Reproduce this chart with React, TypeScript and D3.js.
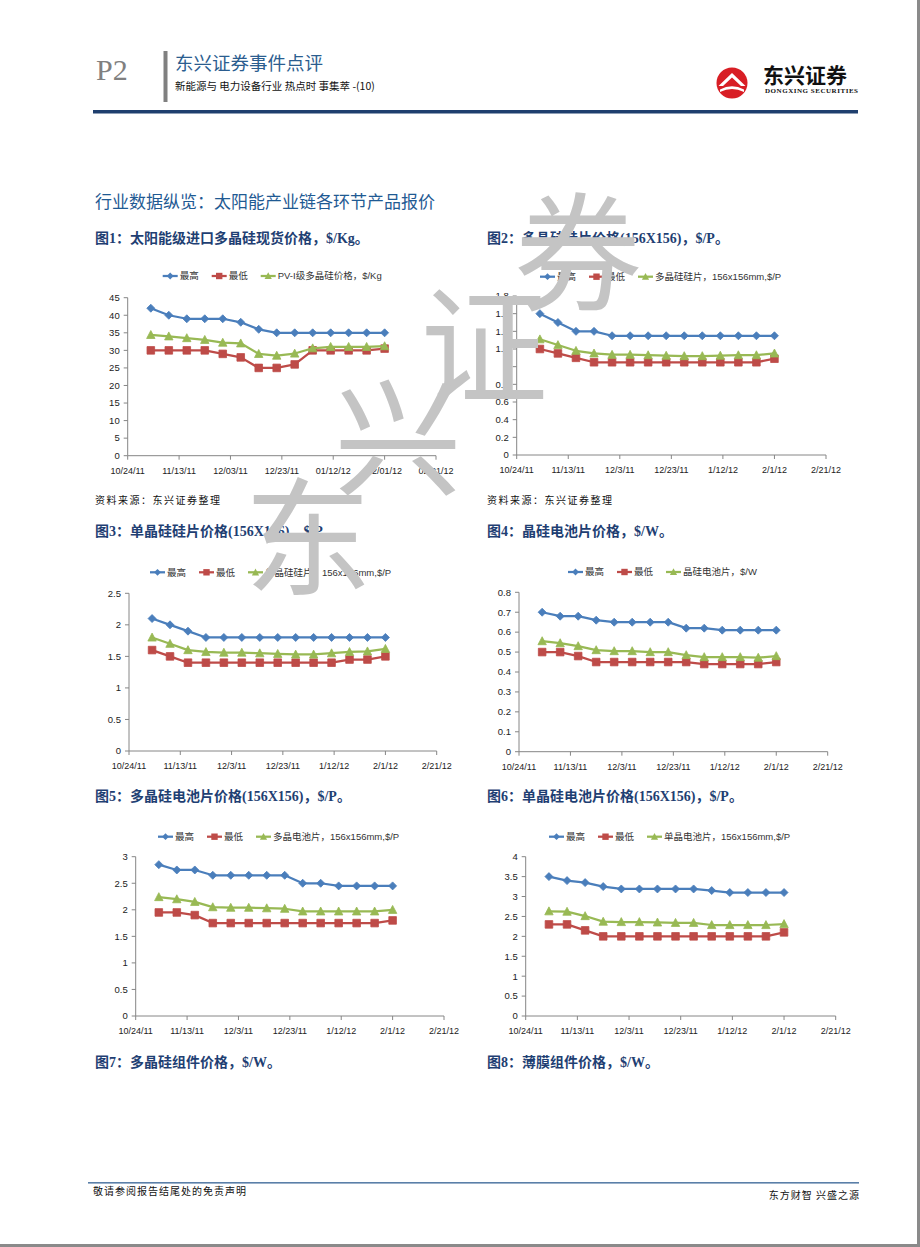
import React from "react";
import * as d3 from "d3";

// ---------- DATA ----------
const DATES = ["11/2/11", "11/9/11", "11/16/11", "11/23/11", "11/30/11", "12/7/11", "12/14/11", "12/21/11", "12/28/11", "1/4/12", "1/11/12", "1/18/12", "1/25/12", "2/1/12"];
const X_TICKS = ["10/24/11", "11/13/11", "12/3/11", "12/23/11", "1/12/12", "2/1/12", "2/21/12"];
const X_LABELS_PADDED = ["10/24/11", "11/13/11", "12/03/11", "12/23/11", "01/12/12", "02/01/12", "02/21/12"];
const SERIES_NAMES = ["最高", "最低"];

// Chart 1 多晶硅现货
const c1High = [42, 40, 39, 39, 39, 38, 36, 35, 35, 35, 35, 35, 35, 35];
const c1Low = [30, 30, 30, 30, 29, 28, 25, 25, 26, 30, 30, 30, 30, 30.5];
const c1Mid = [34.4, 34, 33.5, 33, 32.2, 32, 29, 28.5, 29.1, 30.6, 31, 31, 31, 31.2];
// Chart 2 多晶硅硅片
const c2High = [1.6, 1.5, 1.4, 1.4, 1.35, 1.35, 1.35, 1.35, 1.35, 1.35, 1.35, 1.35, 1.35, 1.35];
const c2Low = [1.2, 1.15, 1.1, 1.05, 1.05, 1.05, 1.05, 1.05, 1.05, 1.05, 1.05, 1.05, 1.05, 1.09];
const c2Mid = [1.31, 1.245, 1.18, 1.15, 1.135, 1.135, 1.13, 1.125, 1.12, 1.12, 1.125, 1.13, 1.13, 1.15];
// Chart 3 单晶硅硅片
const c3High = [2.1, 2.0, 1.9, 1.8, 1.8, 1.8, 1.8, 1.8, 1.8, 1.8, 1.8, 1.8, 1.8, 1.8];
const c3Low = [1.6, 1.5, 1.4, 1.4, 1.4, 1.4, 1.4, 1.4, 1.4, 1.4, 1.4, 1.45, 1.45, 1.5];
const c3Mid = [1.8, 1.7, 1.6, 1.57, 1.56, 1.56, 1.55, 1.54, 1.53, 1.53, 1.55, 1.57, 1.58, 1.62];
// Chart 4 晶硅电池片
const c4High = [0.7, 0.68, 0.68, 0.66, 0.65, 0.65, 0.65, 0.65, 0.62, 0.62, 0.61, 0.61, 0.61, 0.61];
const c4Low = [0.5, 0.5, 0.48, 0.45, 0.45, 0.45, 0.45, 0.45, 0.45, 0.44, 0.44, 0.44, 0.44, 0.45];
const c4Mid = [0.555, 0.545, 0.53, 0.51, 0.505, 0.505, 0.5, 0.5, 0.485, 0.475, 0.475, 0.475, 0.472, 0.48];
// Chart 5 多晶电池片
const c5High = [2.85, 2.75, 2.75, 2.65, 2.65, 2.65, 2.65, 2.65, 2.5, 2.5, 2.45, 2.45, 2.45, 2.45];
const c5Low = [1.95, 1.95, 1.9, 1.75, 1.75, 1.75, 1.75, 1.75, 1.75, 1.75, 1.75, 1.75, 1.75, 1.8];
const c5Mid = [2.24, 2.2, 2.15, 2.05, 2.04, 2.04, 2.03, 2.02, 1.97, 1.97, 1.97, 1.97, 1.97, 2.0];
// Chart 6 单晶电池片
const c6High = [3.5, 3.4, 3.35, 3.25, 3.19, 3.19, 3.19, 3.19, 3.19, 3.15, 3.1, 3.1, 3.1, 3.1];
const c6Low = [2.3, 2.3, 2.15, 2.0, 2.0, 2.0, 2.0, 2.0, 2.0, 2.0, 2.0, 2.0, 2.0, 2.1];
const c6Mid = [2.63, 2.62, 2.51, 2.37, 2.36, 2.36, 2.35, 2.34, 2.34, 2.285, 2.285, 2.285, 2.285, 2.31];

// ---------- STYLE ----------
const BLUE = "#4A7EBB";
const RED = "#BE4B48";
const GREEN = "#98B954";
const NAVY = "#1F3F6E";
const CJK = "'Noto Sans CJK SC', 'Liberation Sans', sans-serif";
const LAT_CJK = "'Liberation Sans', 'Noto Sans CJK SC', sans-serif";
const SERIF_CJK = "'Liberation Serif', 'Noto Sans CJK SC', serif";

const parse = d3.timeParse("%m/%d/%y");

let _canvas: HTMLCanvasElement | null = null;
function measure(text: string, font: string): number {
  if (typeof document === "undefined") return text.length * 8;
  if (!_canvas) _canvas = document.createElement("canvas");
  const ctx = _canvas.getContext("2d")!;
  ctx.font = font;
  return ctx.measureText(text).width;
}

function marker(kind: string, x: number, y: number, s: number) {
  if (kind === "diamond") return `M${x},${y - s}L${x + s},${y}L${x},${y + s}L${x - s},${y}Z`;
  if (kind === "square") return `M${x - s},${y - s}h${2 * s}v${2 * s}h${-2 * s}Z`;
  const h = s * 1.9;
  return `M${x},${y - h * 0.55}L${x + s},${y + h * 0.45}L${x - s},${y + h * 0.45}Z`;
}

type ChartCfg = {
  x0: number; x1: number; top: number; bottom: number;
  ymax: number; ystep: number;
  high: number[]; low: number[]; mid: number[];
  midName: string; legendX: number; legendY: number; xLabels: string[];
};

function Chart({ c }: { c: ChartCfg }) {
  const x = d3.scaleTime().domain([parse(X_TICKS[0])!, parse(X_TICKS[X_TICKS.length - 1])!]).range([c.x0, c.x1]);
  const y = d3.scaleLinear().domain([0, c.ymax]).range([c.bottom, c.top]);
  const yTicks = d3.range(0, c.ymax + c.ystep / 2, c.ystep);
  const dates = DATES.map((d) => parse(d)!);
  const line = d3.line<number>().x((_, i) => x(dates[i])).y((v) => y(v));
  const series = [
    { vals: c.high, color: BLUE, kind: "diamond", s: 4, name: SERIES_NAMES[0] },
    { vals: c.low, color: RED, kind: "square", s: 3.8, name: SERIES_NAMES[1] },
    { vals: c.mid, color: GREEN, kind: "tri", s: 4.2, name: c.midName },
  ];
  const legFont = `9.5px ${LAT_CJK}`;
  let lx = c.legendX;
  const legend = series.map((s) => {
    const item = { ...s, lx };
    lx += 17 + measure(s.name, legFont) + 13;
    return item;
  });
  return (
    <g>
      <line x1={c.x0} x2={c.x0} y1={c.top} y2={c.bottom} stroke="#868686" strokeWidth={1} />
      <line x1={c.x0} x2={c.x1} y1={c.bottom} y2={c.bottom} stroke="#868686" strokeWidth={1} />
      {yTicks.map((t, i) => (
        <g key={"y" + i}>
          <line x1={c.x0 - 4} x2={c.x0} y1={y(t)} y2={y(t)} stroke="#868686" />
          <text x={c.x0 - 8} y={y(t)} dy="0.35em" textAnchor="end" fontSize={9.5} fontFamily={LAT_CJK} fill="#222">
            {String(+t.toFixed(2))}
          </text>
        </g>
      ))}
      {X_TICKS.map((t, i) => (
        <g key={"x" + i}>
          <line x1={x(parse(t)!)} x2={x(parse(t)!)} y1={c.bottom} y2={c.bottom + 4} stroke="#868686" />
          <text x={x(parse(t)!)} y={c.bottom + 15} dy="0.35em" textAnchor="middle" fontSize={9} fontFamily={LAT_CJK} fill="#222">
            {c.xLabels[i]}
          </text>
        </g>
      ))}
      {series.map((s, k) => (
        <g key={"s" + k}>
          <path d={line(s.vals) || ""} fill="none" stroke={s.color} strokeWidth={2.25} strokeLinejoin="round" />
          {s.vals.map((v, i) => (
            <path key={i} d={marker(s.kind, x(dates[i]), y(v), s.s)} fill={s.color} stroke={s.color} strokeWidth={0.8} />
          ))}
        </g>
      ))}
      {legend.map((s, k) => (
        <g key={"l" + k}>
          <line x1={s.lx} x2={s.lx + 15} y1={c.legendY} y2={c.legendY} stroke={s.color} strokeWidth={2.25} />
          <path d={marker(s.kind, s.lx + 7.5, c.legendY, s.s - 0.6)} fill={s.color} />
          <text x={s.lx + 17} y={c.legendY} dy="0.35em" fontSize={9.5} fontFamily={LAT_CJK} fill="#333">
            {s.name}
          </text>
        </g>
      ))}
    </g>
  );
}

const CHARTS: ChartCfg[] = [
  { x0: 127.7, x1: 436, top: 297.7, bottom: 455.7, ymax: 45, ystep: 5, high: c1High, low: c1Low, mid: c1Mid, midName: "PV-I级多晶硅价格，$/Kg", legendX: 162.7, legendY: 276, xLabels: X_LABELS_PADDED },
  { x0: 516.7, x1: 826, top: 296, bottom: 455, ymax: 1.8, ystep: 0.2, high: c2High, low: c2Low, mid: c2Mid, midName: "多晶硅硅片，156x156mm,$/P", legendX: 540, legendY: 276.7, xLabels: X_TICKS },
  { x0: 129, x1: 436.7, top: 593.3, bottom: 751, ymax: 2.5, ystep: 0.5, high: c3High, low: c3Low, mid: c3Mid, midName: "单晶硅硅片，156x156mm,$/P", legendX: 150, legendY: 572.3, xLabels: X_TICKS },
  { x0: 519, x1: 827.7, top: 592.3, bottom: 751.7, ymax: 0.8, ystep: 0.1, high: c4High, low: c4Low, mid: c4Mid, midName: "晶硅电池片，$/W", legendX: 568, legendY: 572, xLabels: X_TICKS },
  { x0: 135.7, x1: 444, top: 856.7, bottom: 1016, ymax: 3, ystep: 0.5, high: c5High, low: c5Low, mid: c5Mid, midName: "多晶电池片，156x156mm,$/P", legendX: 158, legendY: 836.7, xLabels: X_TICKS },
  { x0: 525.7, x1: 835.7, top: 856.7, bottom: 1016, ymax: 4, ystep: 0.5, high: c6High, low: c6Low, mid: c6Mid, midName: "单晶电池片，156x156mm,$/P", legendX: 549, legendY: 836.7, xLabels: X_TICKS },
];

const TITLES = [
  { x: 95, y: 238, text: "图1：太阳能级进口多晶硅现货价格，$/Kg。" },
  { x: 487, y: 238, text: "图2：多晶硅硅片价格(156X156)，$/P。" },
  { x: 95, y: 531, text: "图3：单晶硅硅片价格(156X156)，$/P。" },
  { x: 487, y: 531, text: "图4：晶硅电池片价格，$/W。" },
  { x: 95, y: 796, text: "图5：多晶硅电池片价格(156X156)，$/P。" },
  { x: 487, y: 796, text: "图6：单晶硅电池片价格(156X156)，$/P。" },
  { x: 95, y: 1062, text: "图7：多晶硅组件价格，$/W。" },
  { x: 487, y: 1062, text: "图8：薄膜组件价格，$/W。" },
];

const WATERMARK = [
  { ch: "券", x: 578, y: 245 },
  { ch: "证", x: 484, y: 338 },
  { ch: "兴", x: 398, y: 430 },
  { ch: "东", x: 308, y: 530 },
];

export default function App() {
  return (
    <svg width={920} height={1247} style={{ position: "absolute", left: 0, top: 0, background: "#fff" }}>
      <rect x={0} y={0} width={920} height={1247} fill="#fff" />
      <rect x={917} y={0} width={3} height={1247} fill="#8a8a8a" />
      <rect x={0} y={1244} width={920} height={3} fill="#8a8a8a" />

      <text x={96} y={80} fontSize={30} fontFamily="'Liberation Serif', serif" fill="#808080">P2</text>
      <rect x={163.5} y={51} width={4} height={51} fill="#808080" />
      <text x={175} y={70} fontSize={18.5} fontFamily={CJK} fill="#2B5D8F">东兴证券事件点评</text>
      <text x={175} y={90} fontSize={10.5} fontFamily={CJK} fill="#111">新能源与 电力设备行业 热点时 事集萃 -(10)</text>
      <circle cx={732} cy={83} r={15.5} fill="#D81E25" />
      <path d="M718.5,86 L732,73 L745.5,86 L741,86 L732,77.5 L723,86 Z" fill="#fff" />
      <path d="M720,89.5 Q732,83 744,89.5 L744,92 Q732,86 720,92 Z" fill="#fff" />
      <text x={763} y={83} fontSize={21} fontWeight="bold" fontFamily={CJK} fill="#111">东兴证券</text>
      <text x={765} y={93} fontSize={7} fontWeight="bold" fontFamily="'Liberation Serif', serif" fill="#111" textLength={93}>DONGXING SECURITIES</text>
      <rect x={93} y={110} width={765} height={3.5} fill={NAVY} />

      <text x={95} y={208} fontSize={17} fontFamily={CJK} fill="#1F5A93">行业数据纵览：太阳能产业链各环节产品报价</text>

      {TITLES.map((t, i) => (
        <text key={i} x={t.x} y={t.y + 5} fontSize={14} fontWeight="bold" fontFamily={SERIF_CJK} fill="#1F3F73">{t.text}</text>
      ))}

      <text x={95} y={504} fontSize={10} fontFamily={CJK} fill="#111" letterSpacing={1.5}>资料来源：东兴证券整理</text>
      <text x={487} y={504} fontSize={10} fontFamily={CJK} fill="#111" letterSpacing={1.5}>资料来源：东兴证券整理</text>

      {CHARTS.map((c, i) => <Chart key={i} c={c} />)}

      <rect x={88} y={1182} width={771} height={1.6} fill="#5A7FA8" />
      <text x={93} y={1195} fontSize={10} fontFamily={CJK} fill="#111" letterSpacing={1}>敬请参阅报告结尾处的免责声明</text>
      <text x={860} y={1199} textAnchor="end" fontSize={10} fontFamily={CJK} fill="#111" letterSpacing={1}>东方财智 兴盛之源</text>

      {WATERMARK.map((w, i) => (
        <text key={i} x={w.x} y={w.y} textAnchor="middle" dominantBaseline="central" fontSize={128} fontWeight={400} fontFamily={CJK} fill="#c4c4c4">{w.ch}</text>
      ))}
    </svg>
  );
}
